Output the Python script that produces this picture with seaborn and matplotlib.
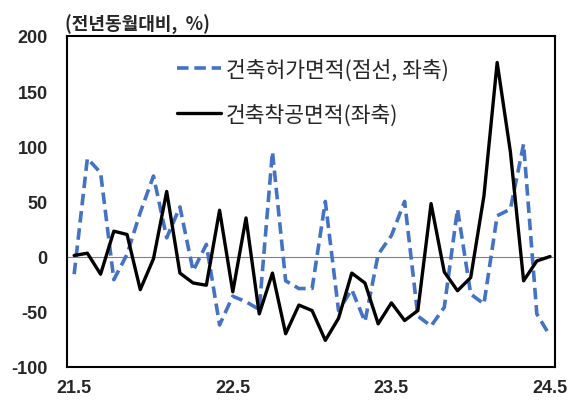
import numpy as np
import pandas as pd
import matplotlib
matplotlib.use("Agg")
import matplotlib.pyplot as plt
import seaborn as sns

# monthly yoy change, 2021.5 ~ 2024.5
permit = [-16, 89, 76, -21, 2, 40, 73, 17, 45, -13, 11, -62, -36, -41, -48, 95,
          -22, -29, -29, 50, -49, -30, -59, 2, 19, 50, -54, -63, -46, 43, -34, -43,
          37, 43, 102, -52, -72]
start = [1, 3, -16, 23, 20, -30, -2, 59, -15, -24, -26, 42, -32, 35, -52, -15,
         -70, -44, -49, -76, -56, -15, -24, -61, -42, -58, -49, 48, -14, -31, -19, 55,
         176, 95, -22, -4, 0]
tick_labels = ["21.5", "22.5", "23.5", "24.5"]
yticks = [200, 150, 100, 50, 0, -50, -100]

sns.set_theme(style="white")
plt.rcParams['font.family'] = ['Noto Sans CJK KR', 'DejaVu Sans']

df = pd.DataFrame({"idx": np.arange(len(permit)), "permit": permit, "start": start})

fig = plt.figure(figsize=(5.74, 4.02), dpi=100)
ax = fig.add_axes([0.117, 0.085, 0.85, 0.823])

ax.axhline(0, color="#808080", lw=0.8, zorder=1)
sns.lineplot(data=df, x="idx", y="permit", ax=ax, color="#4472C4", lw=2.6,
             label="건축허가면적(점선, 좌축)")
ax.lines[-1].set_dashes([3.2, 1.6])
sns.lineplot(data=df, x="idx", y="start", ax=ax, color="black", lw=2.4,
             label="건축착공면적(좌축)")

ax.set_xlim(-0.53, 36.38)
ax.set_ylim(-100, 200)
ax.set_yticks(yticks)
ax.set_yticklabels([str(v) for v in yticks], fontsize=13, fontweight="bold",
                   family="Liberation Sans")
ax.set_xticks([0, 12, 24, 36])
ax.set_xticklabels(tick_labels, fontsize=13, fontweight="bold", family="Liberation Sans")
ax.tick_params(axis="y", length=0, pad=14)
ax.tick_params(axis="x", length=0, pad=9)
ax.set_xlabel("")
ax.set_ylabel("")
for s in ax.spines.values():
    s.set_color("black")
    s.set_linewidth(1.5)

leg = ax.legend(loc="upper left", bbox_to_anchor=(0.2255, 0.931), frameon=False,
                prop={"size": 15.5, "weight": "medium"}, handlelength=2.05,
                handletextpad=0.22, labelspacing=1.05, borderpad=0, borderaxespad=0)

fig.text(0.113, 0.938, "(전년동월대비,  %)", fontsize=13, fontweight="bold", va="center")

fig.savefig("out.png", dpi=100)
